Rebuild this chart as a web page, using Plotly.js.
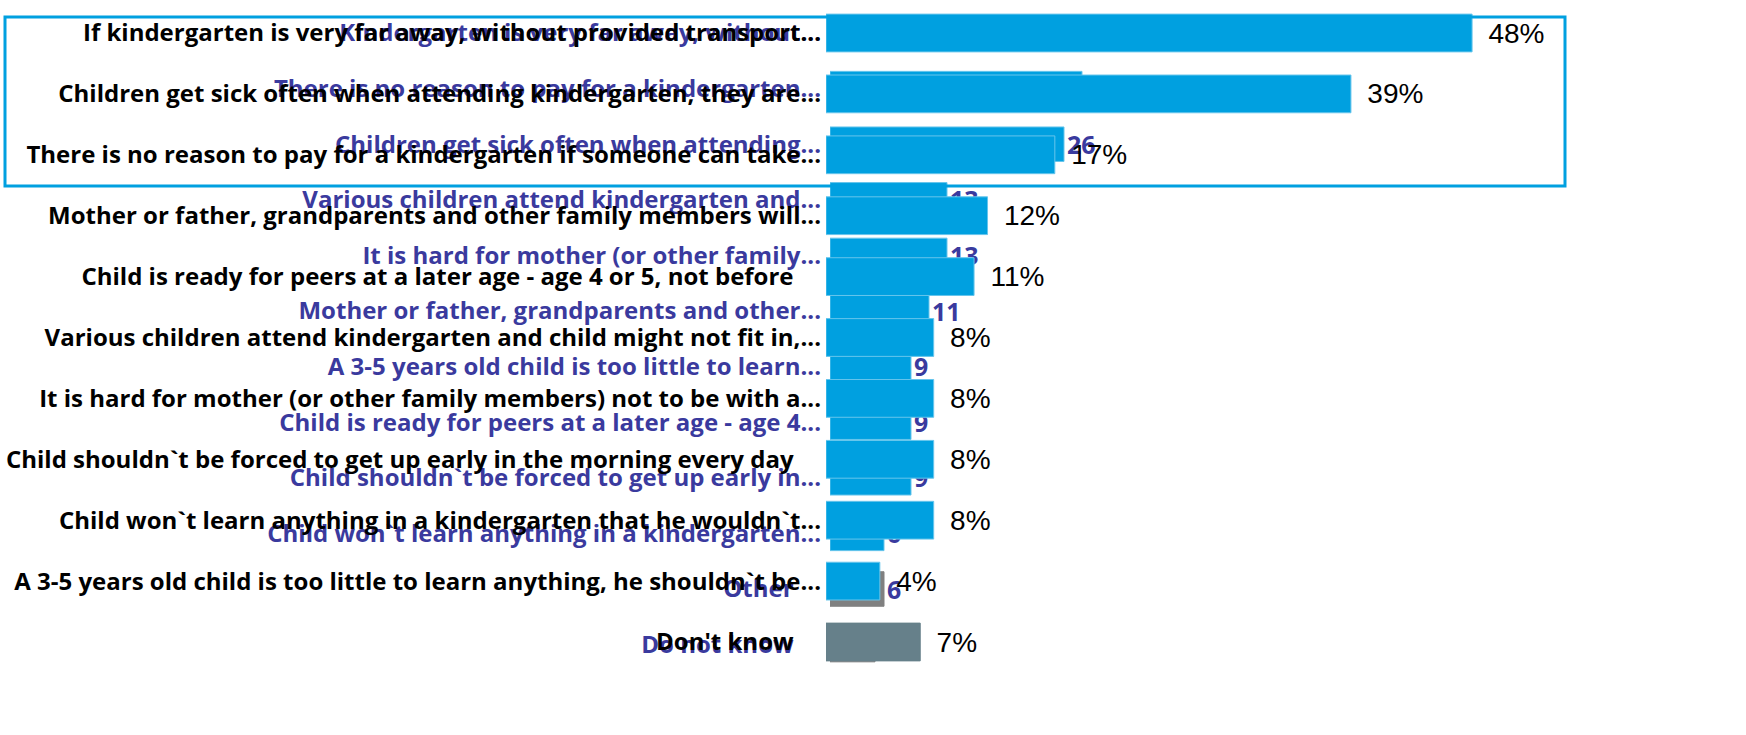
<!DOCTYPE html>
<html>
<head>
<meta charset="utf-8">
<script src="https://cdn.plot.ly/plotly-3.0.1.min.js"></script>
<style>
html,body{margin:0;padding:0;background:#fff;}
#chart{width:1746px;height:735px;}
</style>
</head>
<body>
<div id="chart"></div>
<script>
// Front chart (black labels, percentages)
var frontCategories = [
  "If kindergarten is very far away, without provided transport...",
  "Children get sick often when attending kindergarten, they are...",
  "There is no reason to pay for a kindergarten if someone can take...",
  "Mother or father, grandparents and other family members will...",
  "Child is ready for peers at a later age - age 4 or 5, not before",
  "Various children attend kindergarten and child might not fit in,...",
  "It is hard for mother (or other family members) not to be with a...",
  "Child shouldn`t be forced to get up early in the morning every day",
  "Child won`t learn anything in a kindergarten that he wouldn`t...",
  "A 3-5 years old child is too little to learn anything, he shouldn`t be...",
  "Don't know"
];
var frontValues = [48, 39, 17, 12, 11, 8, 8, 8, 8, 4, 7];

// Back chart (blue labels, counts)
var backCategories = [
  "Kindergarten is very far away, without...",
  "There is no reason to pay for a kindergarten...",
  "Children get sick often when attending...",
  "Various children attend kindergarten and...",
  "It is hard for mother (or other family...",
  "Mother or father, grandparents and other...",
  "A 3-5 years old child is too little to learn...",
  "Child is ready for peers at a later age - age 4...",
  "Child shouldn`t be forced to get up early in...",
  "Child won`t learn anything in a kindergarten...",
  "Other",
  "Do not know"
];
var backValues = [33, 28, 26, 13, 13, 11, 9, 9, 9, 6, 6, 5];

var W = 1746, H = 735;
var BLUE = "#00A0E0";
var frontGray = "#66808a";
var backGray = "#808080";
var labelBlue = "#3a3a9e";

function padLabel(s){ return /\.\.\.$/.test(s) ? s : s + "\u2007\u2007"; }

function isGrayFront(c){ return c === "Don't know"; }
function isGrayBack(c){ return c === "Other" || c === "Do not know"; }

var frontColors = frontCategories.map(function(c){ return isGrayFront(c) ? frontGray : BLUE; });
var frontLines = frontCategories.map(function(c){ return isGrayFront(c) ? frontGray : "#66c5ec"; });
var backColors = backCategories.map(function(c){ return isGrayBack(c) ? backGray : BLUE; });
var backLines = backCategories.map(function(c){ return isGrayBack(c) ? backGray : "#66c5ec"; });

var backTrace = {
  type: "bar", orientation: "h",
  y: backCategories, x: backValues,
  xaxis: "x", yaxis: "y",
  width: 0.62,
  marker: {color: backColors, line: {color: backLines, width: 1}},
  text: backValues.map(function(v){ return String(v); }),
  textposition: "outside",
  cliponaxis: false,
  textfont: {family: "Open Sans", size: 26, color: labelBlue, weight: 700},
  hoverinfo: "skip"
};

var frontTrace = {
  type: "bar", orientation: "h",
  y: frontCategories, x: frontValues,
  xaxis: "x2", yaxis: "y2",
  width: 0.62,
  marker: {color: frontColors, line: {color: frontLines, width: 1}},
  text: frontValues.map(function(v){ return "\u00A0\u2009" + v + "%"; }),
  textposition: "outside",
  cliponaxis: false,
  textfont: {family: "Liberation Sans, Arial", size: 28, color: "#000"},
  hoverinfo: "skip"
};

var backPxPerUnit = 9.0, frontPxPerUnit = 13.46;
var backStart = 830, frontStart = 826;
var backRowTop = 33, backRowStep = 55.6;
var frontRowTop = 33, frontRowStep = 60.9;

var layout = {
  width: W, height: H,
  margin: {l: 0, r: 0, t: 0, b: 0},
  paper_bgcolor: "#fff",
  plot_bgcolor: "rgba(0,0,0,0)",
  showlegend: false,
  xaxis: {
    domain: [backStart / W, 1],
    range: [0, (W - backStart) / backPxPerUnit],
    visible: false, fixedrange: true
  },
  yaxis: {
    domain: [0, 1], anchor: "x",
    type: "category",
    range: [-backRowTop / backRowStep + H / backRowStep, -backRowTop / backRowStep],
    tickvals: backCategories,
    ticktext: backCategories.map(padLabel),
    ticks: "", showline: false, showgrid: false, zeroline: false,
    ticklabelstandoff: 8,
    tickfont: {family: "Open Sans", size: 24, color: labelBlue, weight: 700}
  },
  xaxis2: {
    domain: [frontStart / W, 1], anchor: "y2",
    range: [0, (W - frontStart) / frontPxPerUnit],
    visible: false, fixedrange: true
  },
  yaxis2: {
    domain: [0, 1], anchor: "x2",
    type: "category",
    range: [-frontRowTop / frontRowStep + H / frontRowStep, -frontRowTop / frontRowStep],
    tickvals: frontCategories,
    ticktext: frontCategories.map(padLabel),
    ticks: "", showline: false, showgrid: false, zeroline: false,
    ticklabelstandoff: 4,
    tickfont: {family: "Open Sans", size: 24, color: "#000", weight: 700}
  },
  shapes: [{
    type: "rect", xref: "paper", yref: "paper",
    x0: 5 / W, x1: 1565 / W, y0: 1 - 186 / H, y1: 1 - 17 / H,
    line: {color: BLUE, width: 3}, fillcolor: "rgba(0,0,0,0)", layer: "above"
  }]
};

Plotly.newPlot("chart", [backTrace, frontTrace], layout, {displayModeBar: false, staticPlot: true});
</script>
</body>
</html>
